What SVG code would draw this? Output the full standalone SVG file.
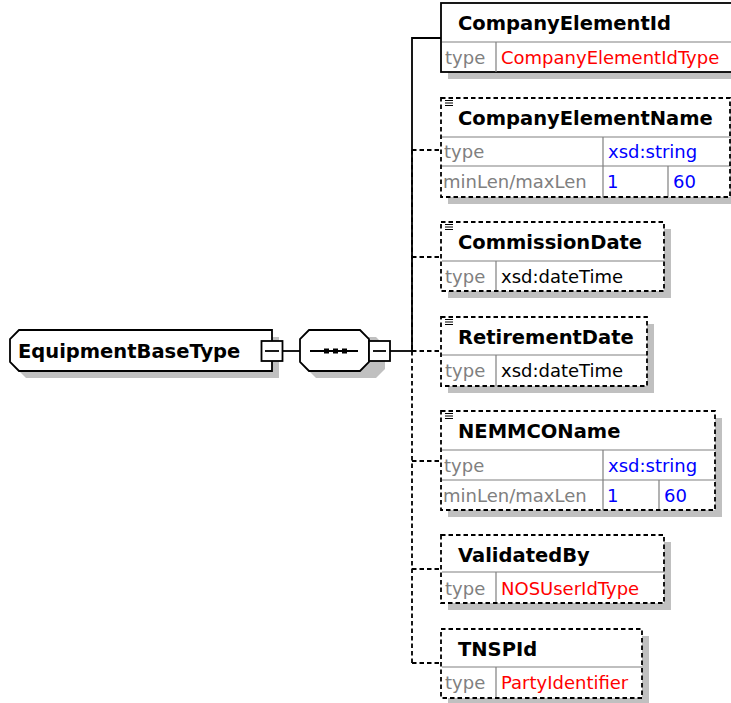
<svg xmlns="http://www.w3.org/2000/svg" width="731" height="703" viewBox="0 0 731 703">
<style>
.bg{fill:#fff}
.sh{fill:#c0c0c0;stroke:none}
.box{fill:#fff;stroke:#000;stroke-width:1.8}
.opt{fill:none;stroke:#000;stroke-width:1.8;stroke-dasharray:4.5,3}
.grid{stroke:#808080;stroke-width:1.2;fill:none}
.ln{stroke:#000;stroke-width:1.8;fill:none}
.dl{stroke:#000;stroke-width:1.8;fill:none;stroke-dasharray:4.5,3}
.ico{stroke:#000;stroke-width:1.2}
.nm{font-family:"DejaVu Sans",Verdana,sans-serif;font-weight:bold;font-size:19.5px;fill:#000}
.t{font-family:"DejaVu Sans",Verdana,sans-serif;font-size:18px}
.g{fill:#808080}
.r{fill:#ff0000}
.b{fill:#0000ff}
.k{fill:#000}
</style>
<rect class="bg" x="0" y="0" width="731" height="703"/>

<g id="connectors">
  <path class="ln" d="M282,351 H300"/>
  <path class="ln" d="M390,351 H412"/>
  <path class="dl" d="M412,351 V663"/>
  <path class="dl" d="M412,150 V351"/>
  <path class="ln" d="M412,351 V38 H441"/>
  <path class="dl" d="M412,150 H441"/>
  <path class="dl" d="M412,257 H441"/>
  <path class="dl" d="M412,351 H441"/>
  <path class="dl" d="M412,461 H441"/>
  <path class="dl" d="M412,569 H441"/>
  <path class="dl" d="M412,663 H441"/>
</g>

<g id="EquipmentBaseType">
  <polygon class="sh" points="26,337 279,337 279,378 26,378 17,369 17,346"/>
  <polygon class="box" points="19,330 272,330 272,371 19,371 10,362 10,339"/>
  <text class="nm" x="18" y="358">EquipmentBaseType</text>
  <rect class="box" x="261.5" y="341" width="21" height="20"/>
  <path class="ln" d="M265,351 H279"/>
</g>

<g id="sequence">
  <polygon class="sh" points="316,337 376,337 385,346 385,369 376,378 316,378 307,369 307,346"/>
  <polygon class="box" points="309,330 360,330 369,339 369,362 360,371 309,371 300,362 300,339"/>
  <path class="ln" d="M310,351 H358"/>
  <rect x="324" y="348.5" width="5" height="5" fill="#000"/>
  <rect x="333" y="348.5" width="5" height="5" fill="#000"/>
  <rect x="342" y="348.5" width="5" height="5" fill="#000"/>
  <rect class="box" x="369" y="341" width="21" height="20"/>
  <path class="ln" d="M373,351 H386"/>
</g>

<g id="CompanyElementId">
  <rect class="sh" x="448" y="10" width="300" height="69"/>
  <rect class="box" x="441" y="3" width="300" height="69"/>
  <path class="grid" d="M442,42 H741 M496,42 V72"/>
  <text class="nm" x="458" y="30">CompanyElementId</text>
  <text class="t g" x="445" y="64">type</text>
  <text class="t r" x="501" y="64">CompanyElementIdType</text>
</g>

<g id="CompanyElementName">
  <rect class="sh" x="448" y="105" width="289" height="99"/>
  <rect class="bg" x="441" y="98" width="289" height="99"/>
  <path class="grid" d="M442,137 H730 M442,166 H730 M603,137 V197 M668,166 V197"/>
  <rect class="opt" x="441" y="98" width="289" height="99"/>
  <path class="ico" d="M445,100.5 H453 M445,103 H453 M445,105.5 H453"/>
  <text class="nm" x="458" y="125">CompanyElementName</text>
  <text class="t g" x="444" y="158">type</text>
  <text class="t b" x="608" y="158">xsd:string</text>
  <text class="t g" x="443" y="188">minLen/maxLen</text>
  <text class="t b" x="607" y="188">1</text>
  <text class="t b" x="673" y="188">60</text>
</g>

<g id="CommissionDate">
  <rect class="sh" x="448" y="229" width="223" height="69"/>
  <rect class="bg" x="441" y="222" width="223" height="69"/>
  <path class="grid" d="M442,261 H664 M496,261 V291"/>
  <rect class="opt" x="441" y="222" width="223" height="69"/>
  <path class="ico" d="M445,224.5 H453 M445,227 H453 M445,229.5 H453"/>
  <text class="nm" x="458" y="249">CommissionDate</text>
  <text class="t g" x="445" y="283">type</text>
  <text class="t k" x="501" y="283">xsd:dateTime</text>
</g>

<g id="RetirementDate">
  <rect class="sh" x="448" y="324" width="206" height="69"/>
  <rect class="bg" x="441" y="317" width="206" height="69"/>
  <path class="grid" d="M442,355 H647 M496,355 V386"/>
  <rect class="opt" x="441" y="317" width="206" height="69"/>
  <path class="ico" d="M445,319.5 H453 M445,322 H453 M445,324.5 H453"/>
  <text class="nm" x="458" y="344">RetirementDate</text>
  <text class="t g" x="445" y="377">type</text>
  <text class="t k" x="501" y="377">xsd:dateTime</text>
</g>

<g id="NEMMCOName">
  <rect class="sh" x="448" y="418" width="274" height="99"/>
  <rect class="bg" x="441" y="411" width="274" height="99"/>
  <path class="grid" d="M442,450 H715 M442,480 H715 M603,450 V510 M659,480 V510"/>
  <rect class="opt" x="441" y="411" width="274" height="99"/>
  <path class="ico" d="M445,413.5 H453 M445,416 H453 M445,418.5 H453"/>
  <text class="nm" x="458" y="438">NEMMCOName</text>
  <text class="t g" x="444" y="472">type</text>
  <text class="t b" x="608" y="472">xsd:string</text>
  <text class="t g" x="443" y="502">minLen/maxLen</text>
  <text class="t b" x="607" y="502">1</text>
  <text class="t b" x="664" y="502">60</text>
</g>

<g id="ValidatedBy">
  <rect class="sh" x="448" y="542" width="223" height="68"/>
  <rect class="bg" x="441" y="535" width="223" height="68"/>
  <path class="grid" d="M442,572 H664 M496,572 V603"/>
  <rect class="opt" x="441" y="535" width="223" height="68"/>
  <text class="nm" x="458" y="562">ValidatedBy</text>
  <text class="t g" x="445" y="595">type</text>
  <text class="t r" x="501" y="595">NOSUserIdType</text>
</g>

<g id="TNSPId">
  <rect class="sh" x="448" y="636" width="201" height="69"/>
  <rect class="bg" x="441" y="629" width="201" height="69"/>
  <path class="grid" d="M442,667 H642 M496,667 V698"/>
  <rect class="opt" x="441" y="629" width="201" height="69"/>
  <text class="nm" x="458" y="656">TNSPId</text>
  <text class="t g" x="445" y="689">type</text>
  <text class="t r" x="501" y="689">PartyIdentifier</text>
</g>
</svg>
